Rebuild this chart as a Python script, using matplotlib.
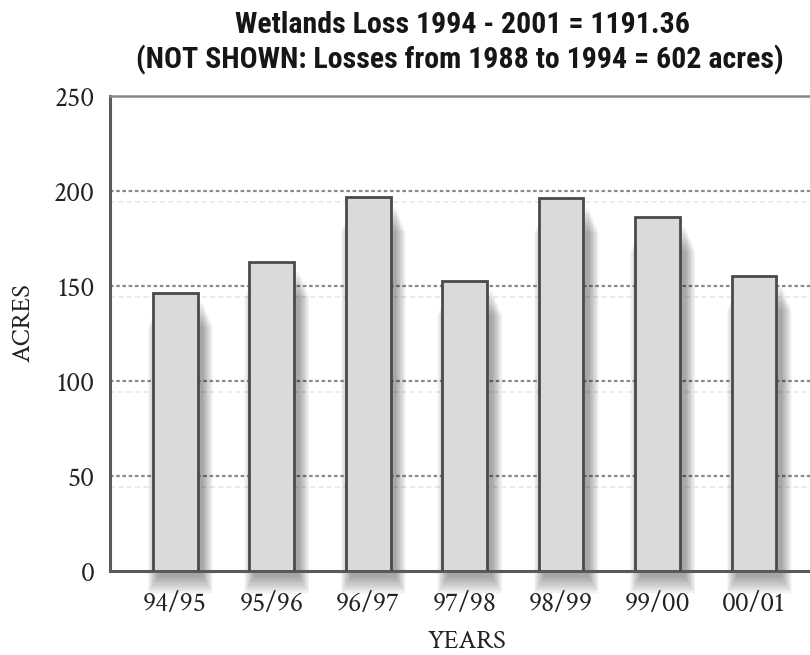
import matplotlib
matplotlib.use('Agg')
import matplotlib.pyplot as plt
from matplotlib.patches import Rectangle

seasons = ['94/95', '95/96', '96/97', '97/98', '98/99', '99/00', '00/01']
acres = [146.5, 162.5, 196.7, 152.6, 196.2, 186.5, 155.4]
y_ticks = [0, 50, 100, 150, 200, 250]

TITLE_1 = 'Wetlands Loss 1994 - 2001 = 1191.36'
TITLE_2 = '(NOT SHOWN: Losses from 1988 to 1994 = 602 acres)'
SERIF = ['Crimson Text', 'Crimson Pro', 'Liberation Serif', 'DejaVu Serif']
NARROW = ['Roboto Condensed', 'PT Sans Narrow', 'Archivo Narrow', 'DejaVu Sans']

BAR_W = 0.466
SPINE = '#5a5a5a'
W, H = 810, 655

fig = plt.figure(figsize=(W / 100, H / 100), dpi=100)
ax = fig.add_axes([110 / W, 84 / H, 1 - 110 / W, 475 / H])

x = list(range(len(seasons)))

# soft drop shadow: many faint rectangles, shifted right and spilling below the baseline
for xi, v in zip(x, acres):
    for k in range(14):
        grow = k * 0.008
        ax.add_patch(Rectangle((xi - BAR_W / 2 + 0.055 - grow, -3 - k * 0.7),
                               BAR_W + 2 * grow, v - 2 - k * 0.3,
                               facecolor='black', edgecolor='none',
                               alpha=0.026, zorder=1, clip_on=False))

ax.bar(x, acres, width=BAR_W, color='#dadadc', edgecolor='#4a4a4a',
       linewidth=2.0, zorder=3)

# dotted gridlines, each with a faint echo just beneath
for t in y_ticks[1:-1]:
    ax.axhline(t, color='#8a8a8a', lw=1.6, ls=(0, (1.6, 1.2)), zorder=0.5)
    ax.axhline(t - 6, color='#e8e8e8', lw=1.2, ls=(0, (3, 2)), zorder=0.4)

ax.set_xlim(-0.674, (W - 175) / 96.5)
ax.set_ylim(0, 250)
ax.set_yticks(y_ticks)
ax.set_xticks(x)
ax.set_xticklabels(seasons)
ax.tick_params(length=0, labelsize=20)
ax.tick_params(axis='x', pad=15)
ax.tick_params(axis='y', pad=11)
for lab in ax.get_xticklabels() + ax.get_yticklabels():
    lab.set_family(SERIF)
    lab.set_color('#222222')

for side in ['left', 'bottom']:
    ax.spines[side].set_color(SPINE)
    ax.spines[side].set_linewidth(2.2)
ax.spines['top'].set_color('#888888')
ax.spines['top'].set_linewidth(1.8)
ax.spines['right'].set_visible(False)

ax.set_ylabel('ACRES', family=SERIF, fontsize=19, color='#222222')
ax.yaxis.label.set_va('center')
ax.yaxis.set_label_coords(-(110 - 23) / 700, (571 - 323) / 475)
ax.set_xlabel('YEARS', family=SERIF, fontsize=19, color='#222222')
ax.xaxis.label.set_va('center')
ax.xaxis.set_label_coords((467 - 110) / 700, -(642 - 571) / 475)

fig.text(462 / W, 1 - 33 / H, TITLE_1, ha='center', va='baseline', family=NARROW,
         fontweight='bold', fontsize=21.5, color='#161616')
fig.text(460 / W, 1 - 68 / H, TITLE_2, ha='center', va='baseline', family=NARROW,
         fontweight='bold', fontsize=21.5, color='#161616')

fig.savefig('out.png', dpi=100, facecolor='white')
